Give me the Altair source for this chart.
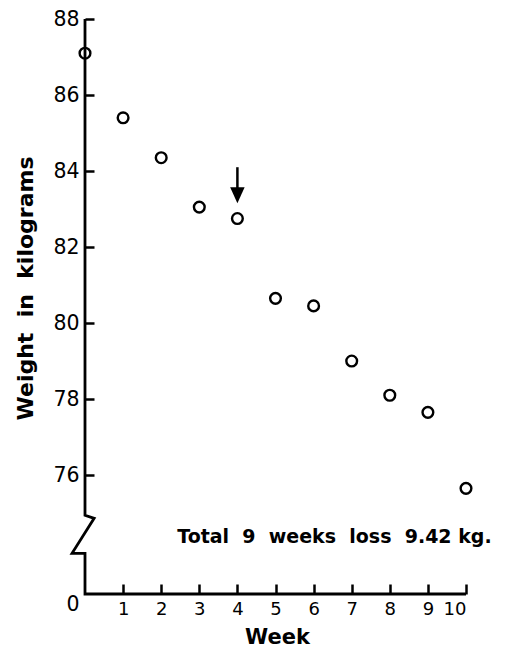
import altair as alt
import pandas as pd

# ---- data ----
weeks = [0, 1, 2, 3, 4, 5, 6, 7, 8, 9, 10]
weights = [87.1, 85.4, 84.35, 83.05, 82.75, 80.65, 80.45, 79.0, 78.1, 77.65, 75.65]

y_ticks = [76, 78, 80, 82, 84, 86, 88]
x_ticks = [1, 2, 3, 4, 5, 6, 7, 8, 9, 10]
y_floor = 72.87          # value drawn as the "0" baseline below the axis break

# broken y-axis line and x-axis line (week, kg)
axis_path_week = [0, 0, 0.24, -0.34, 0, 0, 10]
axis_path_kg = [88, 74.94, 74.86, 73.94, 73.94, y_floor, y_floor]

# arrow marking week 4
arrow_week = [4]
arrow_top = [84.1]
arrow_bottom = [83.5]
arrow_head = [83.36]

note_text = ["Total\u00a0 9\u00a0 weeks\u00a0 loss\u00a0 9.42 kg."]
note_week = [2.42]
note_kg = [74.36]

FONT = "DejaVu Sans"

pts = pd.DataFrame({"week": weeks, "weight": weights})
axis_df = pd.DataFrame({"week": axis_path_week, "weight": axis_path_kg,
                        "i": list(range(len(axis_path_week)))})
arrow_df = pd.DataFrame({"week": arrow_week, "weight": arrow_top, "weight2": arrow_bottom})
head_df = pd.DataFrame({"week": arrow_week, "weight": arrow_head})
note_df = pd.DataFrame({"week": note_week, "weight": note_kg, "t": note_text})

xscale = alt.Scale(domain=[0, 10], nice=False, zero=False)
yscale = alt.Scale(domain=[y_floor, 88], nice=False, zero=False)

is_zero = "datum.value < 75"

x_axis = alt.Axis(
    values=x_ticks, domain=False, grid=False, offset=-10, tickSize=10, tickWidth=2.5,
    tickColor="black", labelFont=FONT, labelFontSize=18, labelColor="black",
    labelPadding=6, labelAngle=0, title="Week", titleFont=FONT, titleFontSize=21,
    titleFontWeight="bold", titleColor="black", titleX=192, titleY=53,
    titleBaseline="middle", titleAlign="center",
)
y_axis = alt.Axis(
    values=[y_floor] + y_ticks, domain=False, grid=False, offset=-9, tickSize=9,
    tickWidth=2.5, tickColor="black",
    tickOpacity={"condition": {"test": is_zero, "value": 0}, "value": 1},
    labelExpr=f"{is_zero} ? '0' : datum.label",
    labelBaseline={"condition": {"test": is_zero, "value": "top"}, "value": "middle"},
    labelFont=FONT, labelFontSize=20.5, labelColor="black", labelPadding=6,
    title="Weight\u00a0 in\u00a0 kilograms", titleFont=FONT, titleFontSize=22,
    titleFontWeight="bold", titleColor="black", titleX=-69, titleY=269,
    titleBaseline="middle", titleAlign="center", titleAngle=-90,
)

points = alt.Chart(pts).mark_point(
    shape="circle", filled=False, size=115, strokeWidth=2.4, color="black", opacity=1
).encode(
    x=alt.X("week:Q", scale=xscale, axis=x_axis),
    y=alt.Y("weight:Q", scale=yscale, axis=y_axis),
)

axis_line = alt.Chart(axis_df).mark_line(
    color="black", strokeWidth=2.8, strokeJoin="miter", clip=False
).encode(
    x=alt.X("week:Q", scale=xscale),
    y=alt.Y("weight:Q", scale=yscale),
    order="i:Q",
)

shaft = alt.Chart(arrow_df).mark_rule(color="black", strokeWidth=2.5).encode(
    x="week:Q", y="weight:Q", y2="weight2:Q"
)
head = alt.Chart(head_df).mark_point(
    shape="M-1,-1.1L1,-1.1L0,1.1Z", filled=True, size=210, color="black", opacity=1
).encode(x="week:Q", y="weight:Q")

note = alt.Chart(note_df).mark_text(
    align="left", baseline="middle", font=FONT, fontSize=19, fontWeight="bold",
    color="black"
).encode(x="week:Q", y="weight:Q", text="t:N")

chart = alt.layer(axis_line, shaft, head, note, points).properties(
    width=381, height=575,
    autosize=alt.AutoSizeParams(type="none"),
    padding={"left": 77, "top": 11, "right": 34, "bottom": 54},
    background="white",
).configure_view(stroke=None)

chart.save("out.html", embed_options={"renderer": "svg", "actions": False})
